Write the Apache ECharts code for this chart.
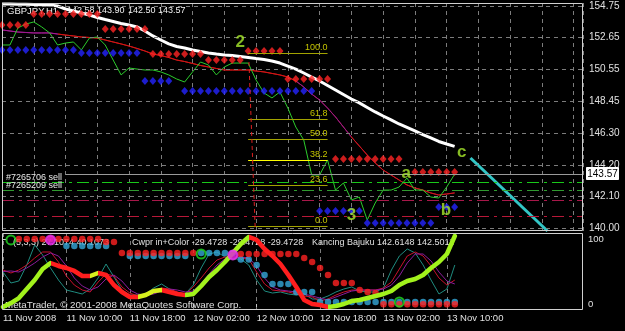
<!DOCTYPE html>
<html>
<head>
<meta charset="utf-8">
<script src="https://cdn.jsdelivr.net/npm/echarts@6.0.0/dist/echarts.min.js"></script>
<style>
html,body{margin:0;padding:0;background:#000;overflow:hidden;}
#chart{width:625px;height:331px;}
</style>
</head>
<body>
<div id="chart"></div>
<script>
// ---------------- DATA ----------------
const xTickIdx = [0, 8, 16, 24, 32, 40, 48, 56];
const xTickLabels = ['11 Nov 2008','11 Nov 10:00','11 Nov 18:00','12 Nov 02:00','12 Nov 10:00','12 Nov 18:00','13 Nov 02:00','13 Nov 10:00'];
const yTickValues = [154.75, 152.65, 150.55, 148.45, 146.30, 144.20, 142.10, 140.00];
const oscTickValues = [0, 100];

const headerSymbol = 'GBPJPY,H1';
const headerOHLC = ['142.58', '143.90', '142.50', '143.57'];
const bidPrice = 143.57;

// hourly closes (green line)
const closePrices = [152.16,152.16,153.29,153.55,153.69,153.36,152.96,152.16,152.29,152.36,
  151.83,152.62,152.69,152.16,151.16,150.17,150.63,150.56,150.50,150.50,
  150.37,150.17,149.90,149.70,150.37,151.03,150.83,150.17,150.70,150.96,
  150.96,150.96,149.83,148.97,148.64,149.04,147.97,146.71,145.85,143.52,
  143.52,144.52,142.52,142.99,141.86,142.06,140.53,141.66,142.52,142.52,
  142.72,143.32,142.52,142.52,142.06,141.99,142.72,143.57];
// thin moving average (red / purple)
const redMA = [153.16,153.09,153.02,152.99,152.96,152.96,152.96,152.89,152.82,152.76,
  152.69,152.66,152.62,152.49,152.36,152.23,152.09,151.93,151.76,151.56,
  151.46,151.33,151.16,151.06,150.93,150.80,150.70,150.60,150.50,150.50,
  150.50,150.50,150.43,150.37,150.27,150.17,150.03,149.77,149.37,148.90,
  148.50,147.97,147.38,146.71,146.05,145.45,144.85,144.32,143.85,143.52,
  143.19,142.86,142.66,142.52,142.33,142.19,142.26,142.33];
// slow moving average (white)
const whiteMA = [154.88,154.88,154.87,154.86,154.85,154.84,154.82,154.75,154.55,154.42,
  154.29,154.15,153.99,153.85,153.72,153.59,153.49,153.36,153.09,152.76,
  152.49,152.23,152.06,151.96,151.83,151.73,151.63,151.56,151.50,151.46,
  151.40,151.33,151.26,151.20,151.10,150.96,150.76,150.56,150.30,150.03,
  149.77,149.47,149.17,148.87,148.57,148.31,148.01,147.71,147.44,147.18,
  146.91,146.68,146.45,146.21,145.98,145.75,145.58,145.42];
// projection line (cyan)
const projIdx = [59, 68.7];
const projPrice = [144.65, 139.80];

// resistance (red diamonds) and support (blue diamonds) levels
const resStart = [0, 4, 13, 19, 26, 31, 36, 42, 52];
const resEnd   = [3, 12, 18, 25, 30, 35, 41, 50, 57];
const resPrice = [153.49, 154.22, 153.22, 151.56, 151.16, 151.76, 149.90, 144.58, 143.72];
const supStart = [0, 10, 18, 23, 40, 46, 55];
const supEnd   = [9, 17, 21, 39, 45, 54, 57];
const supPrice = [151.83, 151.63, 149.77, 149.10, 141.13, 140.33, 141.40];

// Fibonacci retracement
const fibHigh = 151.63, fibLow = 140.13, fibFrom = 31, fibTo = 41;
const fibLevels = [100, 61.8, 50, 38.2, 23.6, 0];
const fibLabels = ['100.0', '61.8', '50.0', '38.2', '23.6', '0.0'];
const fibTrendIdx = [31.1, 31.9];
const fibTrendPrice = [151.03, 139.80];

// order lines
const orderPrices = [143.06, 142.52, 141.86, 140.80];
const orderNames = ['#7265706 sell', '#7265209 sell', '', ''];

// wave labels
const waveText = ['2', '3', 'a', 'b', 'c'];
const waveIdx = [30.0, 44.0, 50.9, 55.9, 57.9];
const wavePrice = [152.36, 140.86, 143.65, 141.20, 145.05];

// sub window oscillators
const thickOsc = [-4.6,1.5,9.2,23.1,36.9,53.8,63.1,58.5,55.4,50.8,
  43.1,43.1,47.7,44.6,29.2,18.5,10.8,10.8,13.8,20.0,
  21.5,18.5,15.4,13.8,15.4,27.7,41.5,52.3,64.6,78.5,
  92.3,103.1,98.5,84.6,73.8,61.5,44.6,26.2,6.2,0,
  -1.5,-4.6,-3.1,0,4.6,6.2,9.2,12.3,15.4,20.0,
  29.2,35.4,38.5,44.6,55.4,64.6,76.9,104.6];
const tealOsc = [49.2,32.3,35.4,60.0,90.8,75.4,55.4,36.9,21.5,18.5,
  15.4,23.1,40.0,61.5,41.5,21.5,13.8,13.8,15.4,24.6,
  30.8,23.1,16.9,15.4,29.2,55.4,76.9,80.0,72.3,69.2,
  69.2,60.0,36.9,20.0,16.9,18.5,15.4,13.8,15.4,7.7,
  7.7,12.3,18.5,23.1,26.2,20.0,18.5,18.5,24.6,52.3,
  73.8,84.6,78.5,60.0,36.9,15.4,23.1,60.0];
const redOsc = [52.3,47.7,52.3,60.0,70.8,80.0,80.0,64.6,43.1,29.2,
  21.5,18.5,33.8,46.2,43.1,26.2,16.9,12.3,12.3,18.5,
  24.6,23.1,18.5,15.4,26.2,40.0,55.4,67.7,72.3,72.3,
  70.8,69.2,49.2,30.8,21.5,20.0,18.5,15.4,12.3,10.8,
  4.6,7.7,13.8,18.5,21.5,21.5,21.5,21.5,24.6,33.8,
  53.8,73.8,80.0,73.8,58.5,40.0,29.2,36.9];
const purpleOsc = [50.0,50.8,49.2,55.4,63.1,72.3,78.5,73.8,58.5,40.0,
  27.7,21.5,26.2,38.5,44.6,35.4,21.5,15.4,13.8,15.4,
  20.0,23.1,21.5,18.5,20.0,30.8,46.2,60.0,69.2,72.3,
  72.3,70.8,58.5,40.0,26.2,21.5,20.0,18.5,15.4,12.3,
  9.2,6.2,10.8,15.4,20.0,21.5,21.5,21.5,23.1,29.2,
  43.1,63.1,76.9,76.9,66.2,49.2,35.4,30.8];
const redDots = [null,null,100,100,100,100,100,100,100,100,
  100,100,100,95.4,95.4,78.5,78.5,78.5,78.5,78.5,
  78.5,78.5,78.5,78.5,78.5,null,null,null,null,null,
  76.9,76.9,76.9,76.9,76.9,76.9,76.9,76.9,70.8,64.6,
  55.4,44.6,32.3,32.3,32.3,21.5,18.5,16.9,-0.5,-0.5,
  -0.5,-0.5,-0.5,-0.5,-0.5,-0.5,-0.5,-0.5];
const skyDots = [null,null,null,null,null,null,null,null,89.2,89.2,
  89.2,89.2,89.2,89.2,null,null,73.8,73.8,73.8,73.8,
  73.8,73.8,73.8,73.8,null,78.5,78.5,78.5,78.5,78.5,
  68.5,68.5,60.0,44.6,30.8,30.8,30.8,18.5,18.5,18.5,
  3.1,3.1,3.1,3.1,3.1,3.1,3.1,3.1,3.1,3.1,
  3.1,3.1,3.1,3.1,3.1,3.1,3.1,3.1];
const greenRingIdx = [1, 25, 50];
const greenRingVal = [98.5, 76.9, 3.1];
const magentaRingIdx = [6, 29];
const magentaRingVal = [98.5, 75.4];

const subHeader1 = '(5,3,3) 27.1074 40.1073';
const subHeader2 = 'Cwpr in+Color -29.4728 -29.4728 -29.4728';
const subHeader3 = 'Kancing Bajuku 142.6148 142.5011';
const copyright = 'MetaTrader, \u00A9 2001-2008 MetaQuotes Software Corp.';

// ---------------- HELPERS ----------------
const FONT = '"Liberation Sans", Arial, sans-serif';
const XMAX = 73.17;
const pairs = arr => arr.map((v, i) => [i, v == null ? null : v]);
const points = arr => arr.map((v, i) => [i, v]).filter(p => p[1] != null);
function expandLevels(starts, ends, prices) {
  const out = [];
  for (let k = 0; k < starts.length; k++)
    for (let i = starts[k]; i <= ends[k]; i++) out.push([i, prices[k]]);
  return out;
}
function directionPieces(arr, up, down, shortUp) {
  const dirs = [];
  for (let i = 0; i < arr.length - 1; i++) {
    const d = arr[i + 1] > arr[i] ? 1 : (arr[i + 1] < arr[i] ? -1 : (i ? dirs[i - 1] : 1));
    dirs.push(d);
  }
  const pieces = [];
  let s = 0;
  for (let i = 1; i <= dirs.length; i++) {
    if (i === dirs.length || dirs[i] !== dirs[s]) {
      const len = i - s;
      const color = dirs[s] > 0 ? (len <= 3 ? shortUp : up) : down;
      pieces.push({ gte: s === 0 ? -10 : s, lt: i === dirs.length ? 1000 : i, color });
      s = i;
    }
  }
  return pieces;
}

// ---------------- OPTION ----------------
const gridLineStyle = { color: '#7c7c7c', type: [4, 4], width: 1 };
const orderColors = ['#19c819', '#2f9a2f', '#a8184a', '#b81838'];
const fibColors = fibLevels.map(l => l === 38.2 ? '#ffff00' : '#a3a300');

const markData = [];
yTickValues.forEach(v => markData.push({ yAxis: v, lineStyle: gridLineStyle, label: { show: false } }));
orderPrices.forEach((p, k) => markData.push({
  yAxis: p,
  lineStyle: { color: orderColors[k], type: [12, 5, 3, 5], width: 1 },
  label: orderNames[k] ? { show: true, position: 'insideStartTop', formatter: orderNames[k], color: '#e8e8e8', fontSize: 9, fontFamily: FONT, distance: [4, 0] } : { show: false }
}));
markData.push([{ coord: [8, bidPrice], lineStyle: { color: '#9a9a9a', type: 'solid', width: 1 }, label: { show: false } }, { coord: [XMAX, bidPrice] }]);
fibLevels.forEach((l, k) => {
  const p = fibLow + (fibHigh - fibLow) * l / 100;
  markData.push([{ coord: [fibFrom, p], lineStyle: { color: fibColors[k], type: 'solid', width: 1 },
    label: { show: true, position: 'insideEndTop', formatter: fibLabels[k], color: '#c4c400', fontSize: 9, fontFamily: FONT, distance: [0, 1] } },
    { coord: [fibTo, p] }]);
});
markData.push([{ coord: [fibTrendIdx[0], fibTrendPrice[0]], lineStyle: { color: '#e02020', type: [4, 3], width: 1 }, label: { show: false } },
  { coord: [fibTrendIdx[1], fibTrendPrice[1]] }]);

const xBase = {
  type: 'value', min: 0, max: XMAX, interval: 4,
  axisLine: { show: false },
  splitLine: { show: true, lineStyle: gridLineStyle }
};

const option = {
  backgroundColor: '#000000',
  animation: false,
  grid: [
    { left: 2, top: 3, width: 581, height: 228, show: false },
    { left: 2, top: 233, width: 581, height: 77, show: false }
  ],
  xAxis: [
    Object.assign({ gridIndex: 0, axisTick: { show: false }, axisLabel: { show: false } }, xBase),
    Object.assign({ gridIndex: 1,
      axisTick: { show: true, customValues: xTickIdx, length: 3, lineStyle: { color: '#c8c8c8' } },
      axisLabel: { show: true, customValues: xTickIdx, align: 'left', margin: 3, color: '#e0e0e0', fontSize: 9.5, fontFamily: FONT,
        formatter: v => { const k = xTickIdx.indexOf(Math.round(v)); return k >= 0 ? xTickLabels[k] : ''; } } }, xBase)
  ],
  yAxis: [
    { gridIndex: 0, type: 'value', position: 'right', min: 139.80, max: 154.95,
      splitLine: { show: false }, axisLine: { show: false },
      axisTick: { show: true, customValues: yTickValues, length: 4, lineStyle: { color: '#c8c8c8' } },
      axisLabel: { customValues: yTickValues, formatter: v => v.toFixed(2), color: '#e0e0e0', fontSize: 10, fontFamily: FONT, margin: 6 } },
    { gridIndex: 1, type: 'value', position: 'right', min: -9.2, max: 109.2,
      splitLine: { show: false }, axisLine: { show: false },
      axisTick: { show: true, customValues: oscTickValues, length: 3, lineStyle: { color: '#c8c8c8' } },
      axisLabel: { customValues: oscTickValues, formatter: v => String(Math.round(v)), color: '#e0e0e0', fontSize: 9.5, fontFamily: FONT, margin: 5 } }
  ],
  visualMap: [
    { type: 'piecewise', show: false, seriesIndex: 15, dimension: 0,
      pieces: directionPieces(thickOsc, '#a2f21c', '#ff1e1e', '#d6f01e') },
    { type: 'piecewise', show: false, seriesIndex: 1, dimension: 0,
      pieces: [{ lt: 7, color: '#a01890' }, { gte: 7, lt: 37, color: '#d01414' }, { gte: 37, lt: 44, color: '#a01878' }, { gte: 44, color: '#cc1420' }] }
  ],
  series: [
    { type: 'line', xAxisIndex: 0, yAxisIndex: 0, z: 1, silent: true, symbol: 'none', data: pairs(closePrices),
      lineStyle: { opacity: 0 },
      markLine: { silent: true, symbol: ['none', 'none'], animation: false, data: markData } },
    { type: 'line', xAxisIndex: 0, yAxisIndex: 0, z: 2, symbol: 'none', data: pairs(redMA), lineStyle: { width: 1 } },
    { type: 'line', xAxisIndex: 0, yAxisIndex: 0, z: 3, symbol: 'none', data: pairs(whiteMA), lineStyle: { width: 3, color: '#ffffff' } },
    { type: 'line', xAxisIndex: 0, yAxisIndex: 0, z: 3, symbol: 'none', data: pairs(closePrices), lineStyle: { width: 1, color: '#2ccc2c' } },
    { type: 'line', xAxisIndex: 0, yAxisIndex: 0, z: 3, symbol: 'none', data: projIdx.map((x, k) => [x, projPrice[k]]), lineStyle: { width: 3, color: '#33c6c6' } },
    { type: 'scatter', xAxisIndex: 0, yAxisIndex: 0, z: 4, symbol: 'diamond', symbolSize: [7, 8], data: expandLevels(resStart, resEnd, resPrice), itemStyle: { color: '#ff2424' } },
    { type: 'scatter', xAxisIndex: 0, yAxisIndex: 0, z: 4, symbol: 'diamond', symbolSize: [7, 8], data: expandLevels(supStart, supEnd, supPrice), itemStyle: { color: '#2424ff' } },
    { type: 'scatter', xAxisIndex: 0, yAxisIndex: 0, z: 8, symbolSize: 1, itemStyle: { color: 'rgba(0,0,0,0)' },
      data: waveText.map((t, k) => ({ value: [waveIdx[k], wavePrice[k]], label: { formatter: t } })),
      label: { show: true, position: 'inside', color: '#a8ea2c', fontSize: 17, fontWeight: 'bold', fontFamily: FONT } },
    // sub window
    { type: 'line', xAxisIndex: 1, yAxisIndex: 1, z: 2, symbol: 'none', data: pairs(tealOsc), lineStyle: { width: 1, color: '#1f8c80' } },
    { type: 'line', xAxisIndex: 1, yAxisIndex: 1, z: 2, symbol: 'none', data: pairs(redOsc), lineStyle: { width: 1, color: '#c8102c' } },
    { type: 'line', xAxisIndex: 1, yAxisIndex: 1, z: 2, symbol: 'none', data: pairs(purpleOsc), lineStyle: { width: 1, color: '#8c1c9c' } },
    { type: 'scatter', xAxisIndex: 1, yAxisIndex: 1, z: 3, symbol: 'circle', symbolSize: 6.5, data: points(skyDots), itemStyle: { color: '#35a8d8' } },
    { type: 'scatter', xAxisIndex: 1, yAxisIndex: 1, z: 3, symbol: 'circle', symbolSize: 6.5, data: points(redDots), itemStyle: { color: '#ff2222' } },
    { type: 'scatter', xAxisIndex: 1, yAxisIndex: 1, z: 5, symbol: 'circle', symbolSize: 9,
      data: greenRingIdx.map((x, k) => [x, greenRingVal[k]]), itemStyle: { color: 'rgba(0,0,0,0)', borderColor: '#22dd22', borderWidth: 2 } },
    { type: 'scatter', xAxisIndex: 1, yAxisIndex: 1, z: 5, symbol: 'circle', symbolSize: 9,
      data: magentaRingIdx.map((x, k) => [x, magentaRingVal[k]]), itemStyle: { color: '#dd22dd', borderColor: '#ee33ee', borderWidth: 2 } },
    { type: 'line', xAxisIndex: 1, yAxisIndex: 1, z: 4, symbol: 'none', data: pairs(thickOsc), lineStyle: { width: 4.5, cap: 'round', join: 'round' } }
  ]
};

const chart = echarts.init(document.getElementById('chart'), null, { renderer: 'canvas' });
chart.setOption(option);

function txt(x, y, text, size, color, z, align) {
  return { type: 'text', x: 0, y: 0, z: z || 1, silent: true,
    style: { x, y, text, fill: color, font: size + 'px ' + FONT,
      textAlign: align || 'left', align: align || 'left', textVerticalAlign: 'middle', verticalAlign: 'middle' } };
}
const bidY = chart.convertToPixel({ xAxisIndex: 0, yAxisIndex: 0 }, [0, bidPrice])[1];
const headerX = [67, 97, 128, 158];
const graphics = [
  { type: 'rect', z: 6, silent: true, shape: { x: 2.5, y: 3.5, width: 580, height: 227 }, style: { fill: 'none', stroke: '#d0d0d0', lineWidth: 1 } },
  { type: 'rect', z: 6, silent: true, shape: { x: 2.5, y: 233.5, width: 580, height: 76 }, style: { fill: 'none', stroke: '#d0d0d0', lineWidth: 1 } },
  txt(7, 11, headerSymbol, 9.5, '#f0f0f0', 1),
  txt(132, 243, subHeader2, 9, '#e0e0e0', 1),
  txt(312, 243, subHeader3, 9, '#e0e0e0', 1),
  txt(13, 243, subHeader1, 9, '#e0e0e0', 1),
  txt(5, 305, copyright, 9.8, '#e0e0e0', 1),
  { type: 'rect', z: 10, silent: true, shape: { x: 586.5, y: Math.round(bidY) - 6.5, width: 32, height: 12 }, style: { fill: '#ffffff', stroke: '#ffffff' } },
  txt(602.5, Math.round(bidY), bidPrice.toFixed(2), 10, '#000000', 11, 'center')
];
headerOHLC.forEach((s, k) => graphics.push(txt(headerX[k], 11, s, 9, '#f0f0f0', 1)));
chart.setOption({ graphic: graphics });
</script>
</body>
</html>
